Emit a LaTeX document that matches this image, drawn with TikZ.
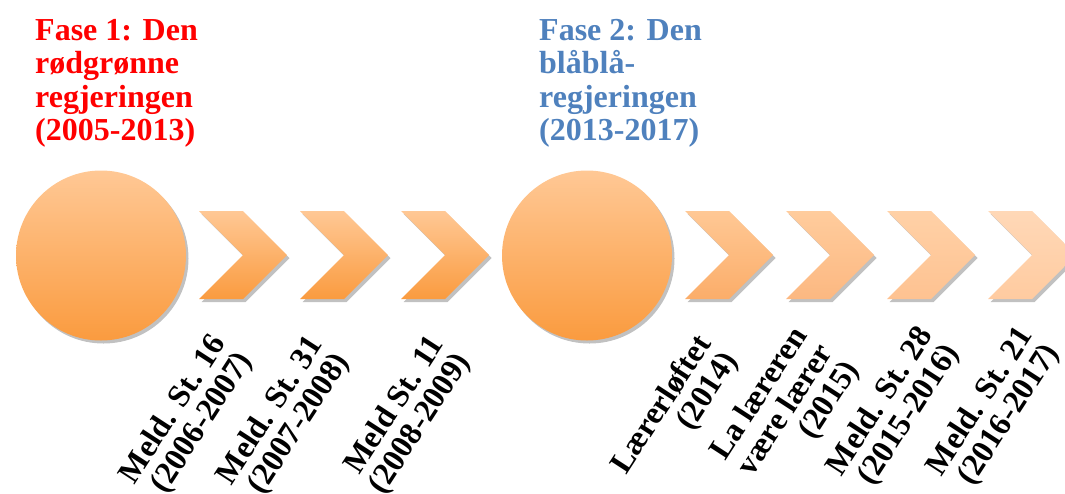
\documentclass[tikz,border=0pt]{standalone}
\usepackage{fontspec}
\setmainfont{Liberation Serif}
\usetikzlibrary{shadows}
\definecolor{phaseblue}{HTML}{4F81BD}
\definecolor{orTop}{HTML}{FFC895}
\definecolor{orBot}{HTML}{FA9B3F}
\definecolor{aTop}{HTML}{FFC895}
\definecolor{aBot}{HTML}{FBAD69}
\definecolor{bTop}{HTML}{FFCC9D}
\definecolor{bBot}{HTML}{FCB881}
\definecolor{cTop}{HTML}{FFD1A7}
\definecolor{cBot}{HTML}{FEC291}
\definecolor{dTop}{HTML}{FFD8B7}
\definecolor{dBot}{HTML}{FFCBA0}
\tikzset{
  shad/.style={drop shadow={shadow xshift=2.5pt, shadow yshift=-3pt, opacity=0.35, fill=black!70}},
  headtext/.style={anchor=north west, align=left, inner sep=0, font=\bfseries\fontsize{32}{33.5}\selectfont},
  lbl/.style={anchor=north east, align=right, inner sep=0, rotate=57, font=\bfseries\fontsize{32}{31}\selectfont},
}
% chevron: #1 left x, #2 flat width, #3 depth, #4 top colour, #5 bottom colour
\newcommand\chevshape[5]{%
  \path[shad, top color=#4, bottom color=#5, draw=none]
    (#1,211) -- ++(#2,0) -- ++(#3,44) -- ++(-#3,44) -- ++(-#2,0) -- ++(#3,-44) -- cycle;}
\begin{document}
\begin{tikzpicture}[x=1pt,y=-1pt]
\useasboundingbox (0,0) rectangle (1065,493);
\clip (0,0) rectangle (1065,493);

% headings
\node[headtext, text=red] (h1) at (35,19) {Fase 1: Den\\rødgrønne\\regjeringen\\(2005-2013)};
\node[headtext, text=phaseblue] (h2) at (539,19) {Fase 2: Den\\blåblå-\\regjeringen\\(2013-2017)};

% phase circles
\node[circle, minimum size=170pt, inner sep=0, shad, top color=orTop, bottom color=orBot] (c1) at (101,255.5) {};
\node[circle, minimum size=170pt, inner sep=0, shad, top color=orTop, bottom color=orBot] (c2) at (587,255.5) {};

% phase 1 chevrons
\chevshape{199}{44}{44}{orTop}{orBot}
\chevshape{300}{44}{44}{orTop}{orBot}
\chevshape{401}{44}{44}{orTop}{orBot}

% phase 2 chevrons
\chevshape{685}{44}{44}{aTop}{aBot}
\chevshape{786}{44}{44}{bTop}{bBot}
\chevshape{887}{44}{44}{cTop}{cBot}
\chevshape{988}{44}{44}{dTop}{dBot}

% labels
\node[lbl] (l1) at (208,331) {Meld. St. 16\\(2006-2007)};
\node[lbl] (l2) at (305,332) {Meld. St. 31\\(2007-2008)};
\node[lbl] (l3) at (426,332) {Meld St. 11\\(2008-2009)};
\node[lbl] (l4) at (693,331) {Lærerløftet\\(2014)};
\node[lbl] (l5) at (789,323) {La læreren\\være lærer\\(2015)};
\node[lbl] (l6) at (915,323) {Meld. St. 28\\(2015-2016)};
\node[lbl] (l7) at (1015,323) {Meld. St. 21\\(2016-2017)};
\end{tikzpicture}
\end{document}
